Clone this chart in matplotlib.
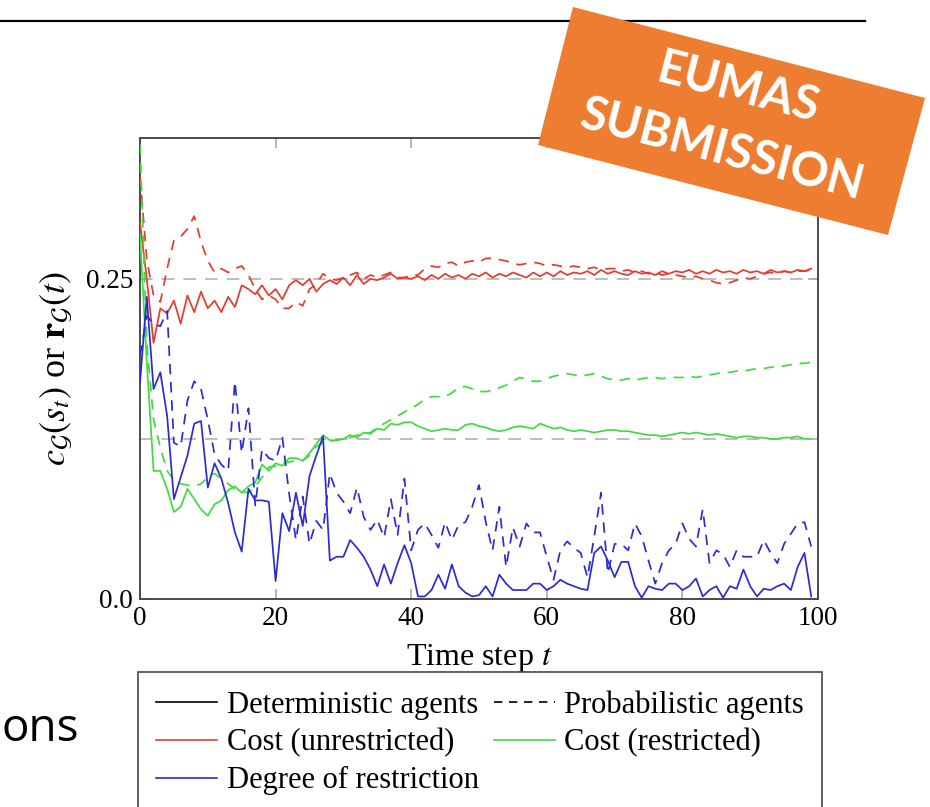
import matplotlib
matplotlib.use("Agg")
import matplotlib.pyplot as plt
from matplotlib.lines import Line2D
from matplotlib.patches import Polygon
from matplotlib import font_manager

# ---- data ----
t = list(range(100))

# deterministic agents, cost without restriction (red, solid)
det_cost_unres = [
    0.294, 0.250, 0.200, 0.227, 0.223, 0.233, 0.215, 0.237, 0.224, 0.240,
    0.227, 0.233, 0.224, 0.236, 0.228, 0.245, 0.242, 0.238, 0.245, 0.237,
    0.242, 0.234, 0.245, 0.249, 0.245, 0.250, 0.240, 0.246, 0.249, 0.246,
    0.251, 0.245, 0.253, 0.246, 0.250, 0.249, 0.251, 0.254, 0.250, 0.251,
    0.250, 0.252, 0.249, 0.253, 0.250, 0.254, 0.251, 0.253, 0.250, 0.254,
    0.252, 0.255, 0.251, 0.254, 0.252, 0.255, 0.253, 0.251, 0.255, 0.252,
    0.255, 0.252, 0.256, 0.253, 0.255, 0.254, 0.256, 0.253, 0.257, 0.254,
    0.256, 0.254, 0.253, 0.256, 0.254, 0.255, 0.253, 0.256, 0.254, 0.256,
    0.255, 0.257, 0.254, 0.256, 0.254, 0.257, 0.255, 0.256, 0.254, 0.257,
    0.255, 0.256, 0.254, 0.257, 0.255, 0.256, 0.255, 0.257, 0.256, 0.258,
]
# probabilistic agents, cost without restriction (red, dashed)
prob_cost_unres = [
    0.330, 0.265, 0.237, 0.232, 0.258, 0.280, 0.283, 0.289, 0.299, 0.279,
    0.264, 0.255, 0.258, 0.255, 0.258, 0.260, 0.253, 0.242, 0.234, 0.237,
    0.234, 0.227, 0.227, 0.232, 0.229, 0.242, 0.246, 0.254, 0.250, 0.249,
    0.251, 0.253, 0.255, 0.250, 0.253, 0.251, 0.253, 0.255, 0.251, 0.251,
    0.253, 0.253, 0.258, 0.260, 0.259, 0.262, 0.263, 0.260, 0.263, 0.264,
    0.263, 0.266, 0.266, 0.265, 0.264, 0.262, 0.261, 0.262, 0.263, 0.262,
    0.260, 0.261, 0.260, 0.259, 0.260, 0.259, 0.258, 0.259, 0.257, 0.258,
    0.258, 0.256, 0.257, 0.255, 0.256, 0.254, 0.255, 0.253, 0.254, 0.253,
    0.252, 0.251, 0.252, 0.250, 0.249, 0.247, 0.246, 0.247, 0.249, 0.251,
    0.250, 0.252, 0.254, 0.255, 0.254, 0.256, 0.255, 0.256, 0.256, 0.257,
]
# deterministic agents, cost with restriction (green, solid)
det_cost_res = [
    0.285, 0.185, 0.100, 0.100, 0.086, 0.068, 0.072, 0.086, 0.078, 0.070,
    0.065, 0.074, 0.077, 0.085, 0.088, 0.083, 0.088, 0.091, 0.105, 0.100,
    0.106, 0.104, 0.110, 0.110, 0.108, 0.114, 0.121, 0.128, 0.124, 0.124,
    0.125, 0.128, 0.126, 0.130, 0.129, 0.133, 0.132, 0.137, 0.136, 0.138,
    0.138, 0.135, 0.133, 0.131, 0.132, 0.133, 0.132, 0.132, 0.136, 0.137,
    0.135, 0.134, 0.132, 0.131, 0.132, 0.134, 0.135, 0.134, 0.133, 0.137,
    0.135, 0.133, 0.134, 0.132, 0.131, 0.132, 0.131, 0.130, 0.131, 0.132,
    0.132, 0.131, 0.131, 0.130, 0.129, 0.128, 0.128, 0.127, 0.128, 0.129,
    0.130, 0.129, 0.130, 0.129, 0.128, 0.129, 0.128, 0.127, 0.126, 0.127,
    0.127, 0.126, 0.126, 0.125, 0.125, 0.126, 0.126, 0.127, 0.125, 0.125,
]
# probabilistic agents, cost with restriction (green, dashed)
prob_cost_res = [
    0.355, 0.200, 0.140, 0.118, 0.100, 0.093, 0.090, 0.089, 0.088, 0.090,
    0.095, 0.098, 0.094, 0.090, 0.086, 0.084, 0.083, 0.088, 0.095, 0.103,
    0.104, 0.106, 0.107, 0.108, 0.108, 0.112, 0.119, 0.122, 0.123, 0.124,
    0.125, 0.126, 0.128, 0.129, 0.130, 0.134, 0.137, 0.140, 0.143, 0.146,
    0.149, 0.152, 0.156, 0.158, 0.158, 0.158, 0.161, 0.165, 0.166, 0.164,
    0.162, 0.162, 0.163, 0.165, 0.167, 0.170, 0.173, 0.172, 0.170, 0.170,
    0.172, 0.174, 0.175, 0.176, 0.175, 0.174, 0.175, 0.176, 0.174, 0.172,
    0.171, 0.171, 0.172, 0.171, 0.172, 0.173, 0.173, 0.172, 0.173, 0.173,
    0.173, 0.174, 0.173, 0.174, 0.175, 0.176, 0.177, 0.177, 0.178, 0.178,
    0.179, 0.180, 0.180, 0.181, 0.181, 0.182, 0.183, 0.184, 0.184, 0.185,
]
# deterministic agents, degree of restriction (blue, solid)
det_restr = [
    0.169, 0.236, 0.164, 0.177, 0.143, 0.078, 0.095, 0.112, 0.137, 0.139,
    0.087, 0.106, 0.094, 0.075, 0.052, 0.037, 0.086, 0.077, 0.077, 0.076,
    0.014, 0.067, 0.053, 0.083, 0.057, 0.096, 0.112, 0.127, 0.030, 0.033,
    0.033, 0.046, 0.040, 0.033, 0.023, 0.010, 0.027, 0.012, 0.028, 0.042,
    0.028, 0.002, 0.002, 0.007, 0.019, 0.008, 0.027, 0.010, 0.005, 0.002,
    0.003, 0.010, 0.002, 0.019, 0.012, 0.007, 0.007, 0.007, 0.012, 0.012,
    0.007, 0.010, 0.015, 0.012, 0.010, 0.008, 0.007, 0.036, 0.041, 0.030,
    0.017, 0.029, 0.029, 0.010, 0.001, 0.010, 0.008, 0.007, 0.012, 0.012,
    0.007, 0.010, 0.016, 0.002, 0.007, 0.010, 0.001, 0.010, 0.008, 0.023,
    0.010, 0.002, 0.008, 0.007, 0.010, 0.012, 0.007, 0.025, 0.036, 0.002,
]
# probabilistic agents, degree of restriction (blue, dashed)
prob_restr = [
    0.190, 0.221, 0.215, 0.213, 0.225, 0.122, 0.119, 0.155, 0.170, 0.164,
    0.140, 0.113, 0.105, 0.100, 0.170, 0.114, 0.149, 0.073, 0.117, 0.110,
    0.108, 0.126, 0.082, 0.046, 0.080, 0.043, 0.061, 0.054, 0.098, 0.083,
    0.076, 0.067, 0.087, 0.064, 0.054, 0.062, 0.048, 0.078, 0.050, 0.094,
    0.038, 0.054, 0.059, 0.050, 0.040, 0.060, 0.046, 0.058, 0.060, 0.072,
    0.089, 0.060, 0.038, 0.072, 0.025, 0.056, 0.041, 0.059, 0.052, 0.052,
    0.033, 0.015, 0.038, 0.045, 0.040, 0.036, 0.017, 0.049, 0.083, 0.020,
    0.043, 0.043, 0.038, 0.059, 0.049, 0.030, 0.012, 0.028, 0.038, 0.043,
    0.059, 0.047, 0.041, 0.070, 0.028, 0.038, 0.035, 0.025, 0.038, 0.033,
    0.033, 0.033, 0.046, 0.036, 0.028, 0.043, 0.051, 0.059, 0.060, 0.041,
]

ref_levels = [0.25, 0.125]
x_ticks = [0, 20, 40, 60, 80, 100]
y_ticks = [0.0, 0.25]
y_tick_labels = ["0.0", "0.25"]

RED, GREEN, BLUE = "#e63b2e", "#3fdc3f", "#2b2bd6"
DASH = (0, (6, 4.5))

installed = {f.name for f in font_manager.fontManager.ttflist}
narrow = "Liberation Sans Narrow" if "Liberation Sans Narrow" in installed else "Open Sans"

plt.rcParams["font.family"] = ["Liberation Serif", "DejaVu Serif"]
plt.rcParams["mathtext.fontset"] = "stix"

W, H = 930, 807
fig = plt.figure(figsize=(W / 100, H / 100), dpi=100)


def fx(px):
    return px / W


def fy(py):
    return 1 - py / H


ax = fig.add_axes([fx(140), fy(599), fx(818) - fx(140), fy(138) - fy(599)])

for lv in ref_levels:
    ax.axhline(lv, color="#b8b8b8", lw=1.3, ls=(0, (7, 5)), zorder=1)

lw = 1.25
ax.plot(t, det_cost_unres, color=RED, lw=lw, zorder=3)
ax.plot(t, prob_cost_unres, color=RED, lw=lw, ls=DASH, zorder=3)
ax.plot(t, det_cost_res, color=GREEN, lw=lw, zorder=3)
ax.plot(t, prob_cost_res, color=GREEN, lw=lw, ls=DASH, zorder=3)
ax.plot(t, det_restr, color=BLUE, lw=lw, zorder=4)
ax.plot(t, prob_restr, color=BLUE, lw=lw, ls=DASH, zorder=4)

ax.set_xlim(0, 100)
ax.set_ylim(0, 0.36)
ax.set_xticks(x_ticks)
ax.set_yticks(y_ticks)
ax.set_yticklabels(y_tick_labels)
ax.tick_params(direction="in", top=True, right=True, length=7, width=1.2,
               color="#a8a8a8", labelsize=19.5, pad=5)
for sp in ax.spines.values():
    sp.set_color("#4a4a4a")
    sp.set_linewidth(1.4)

ax.set_xlabel("Time step $t$", fontsize=23, labelpad=8)
ax.set_ylabel(r"$c_{\mathcal{G}}(s_t)$ or $\mathbf{r}_{\mathcal{G}}(t)$",
              fontsize=26, labelpad=8)

# legend, filled row by row
h_det = Line2D([], [], color="black", lw=1.2)
h_prob = Line2D([], [], color="black", lw=1.2, ls=(0, (5, 4)))
h_cu = Line2D([], [], color=RED, lw=1.2)
h_cr = Line2D([], [], color=GREEN, lw=1.2)
h_dr = Line2D([], [], color=BLUE, lw=1.2)
handles = [h_det, h_cu, h_dr, h_prob, h_cr]
labels = ["Deterministic agents", "Cost (unrestricted)", "Degree of restriction",
          "Probabilistic agents", "Cost (restricted)"]
leg = fig.legend(handles, labels, ncol=2, loc="upper left",
                 bbox_to_anchor=(fx(138), fy(672), fx(822) - fx(138), 0),
                 mode="expand", borderaxespad=0, fontsize=22,
                 handlelength=2.0, handletextpad=0.3, columnspacing=0.3,
                 labelspacing=0.28, borderpad=0.6, fancybox=False,
                 edgecolor="#555555", framealpha=1)
leg.get_frame().set_linewidth(1.3)

# slide decorations
fig.add_artist(Line2D([0, fx(865)], [fy(21), fy(21)], color="black", lw=1.6,
                      transform=fig.transFigure, zorder=5))
fig.text(fx(1), fy(741), "ons", family=narrow, fontsize=33, color="black",
         ha="left", va="baseline")

banner = [(573, 7), (925, 98), (888, 235), (538, 145)]
fig.add_artist(Polygon([(fx(x), fy(y)) for x, y in banner], closed=True,
                       facecolor="#ed7d31", edgecolor="none",
                       transform=fig.transFigure, zorder=10))
for txt, cx, cy in [("EUMAS", 738, 88), ("SUBMISSION", 722, 150)]:
    fig.text(fx(cx), fy(cy), txt, family=["Lato", "DejaVu Sans"], weight="bold",
             fontsize=34, color="white", ha="center", va="center",
             rotation=-14.5, rotation_mode="anchor", zorder=11)

fig.savefig("out.png", dpi=100)
